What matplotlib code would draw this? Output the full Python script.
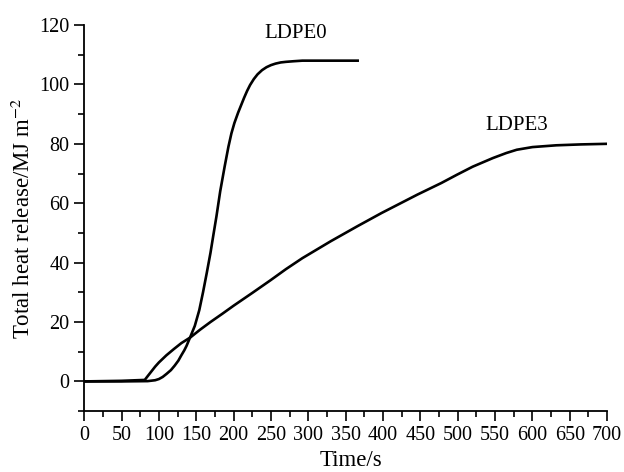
import matplotlib
matplotlib.use("Agg")
import matplotlib.pyplot as plt
from matplotlib.ticker import MultipleLocator

# LDPE0 curve (time in s, total heat release in MJ/m2)
t0 = [0, 50, 85, 95, 100, 105, 110, 116, 121, 126, 130, 134, 137, 142, 148, 154, 159,
      164, 169, 173, 177, 182, 188, 193, 197, 201, 206, 210, 214, 218, 222, 227, 232,
      238, 244, 250, 256, 263, 270, 280, 292, 330, 366]
thr0 = [0, 0, 0.1, 0.4, 0.8, 1.5, 2.5, 3.8, 5.3, 7, 8.8, 10.5, 12, 15, 18.7, 24, 30,
        36.5, 43.3, 49.5, 55.6, 64, 72.4, 79, 83.5, 87, 90.5, 93, 95.5, 97.8, 99.8,
        101.8, 103.4, 104.8, 105.8, 106.5, 107, 107.4, 107.6, 107.8, 108, 108, 108]

# LDPE3 curve
t3 = [0, 50, 81, 85, 90, 95, 100, 110, 120, 130, 142, 155, 169, 185, 200, 225, 249,
      270, 292, 330, 366, 398, 446, 478, 499, 520, 547, 565, 579, 600, 632, 665, 700]
thr3 = [0, 0.2, 0.5, 1.8, 3.4, 5, 6.4, 8.8, 10.9, 12.9, 14.8, 17.4, 20, 22.8, 25.5,
        29.8, 34, 37.8, 41.5, 47.2, 52.3, 56.7, 62.9, 66.8, 69.6, 72.3, 75.2, 76.9,
        78, 78.9, 79.5, 79.8, 80]

plt.rcParams["font.family"] = ["Liberation Serif", "DejaVu Serif"]
plt.rcParams["mathtext.fontset"] = "stix"

fig = plt.figure(figsize=(6.24, 4.72), dpi=100)
ax = fig.add_axes([0.135, 0.129, 0.838, 0.818])

ax.plot(t0, thr0, color="black", lw=1.9)
ax.plot(t3, thr3, color="black", lw=1.9)

ax.text(283, 117, "LDPE0", fontsize=15, ha="center", va="center")
ax.text(579, 86, "LDPE3", fontsize=15, ha="center", va="center")

ax.set_xlim(0, 700)
ax.set_ylim(-10, 120)
ax.xaxis.set_major_locator(MultipleLocator(50))
ax.xaxis.set_minor_locator(MultipleLocator(25))
ax.yaxis.set_major_locator(MultipleLocator(20))
ax.yaxis.set_minor_locator(MultipleLocator(10))
ax.tick_params(which="major", direction="out", length=7, width=1.2, labelsize=14.5)
ax.tick_params(which="minor", direction="out", length=4, width=1.2)

for s in ["top", "right"]:
    ax.spines[s].set_visible(False)
for s in ["left", "bottom"]:
    ax.spines[s].set_linewidth(1.3)

ax.set_xlabel("Time/s", fontsize=16.5, labelpad=4)
ax.xaxis.set_label_coords(0.51, -0.1)
ax.xaxis.label.set_va("top")
ax.set_ylabel("Total heat release/MJ m$^{-2}$", fontsize=16.5, labelpad=3)

fig.savefig("out.png", dpi=100)
